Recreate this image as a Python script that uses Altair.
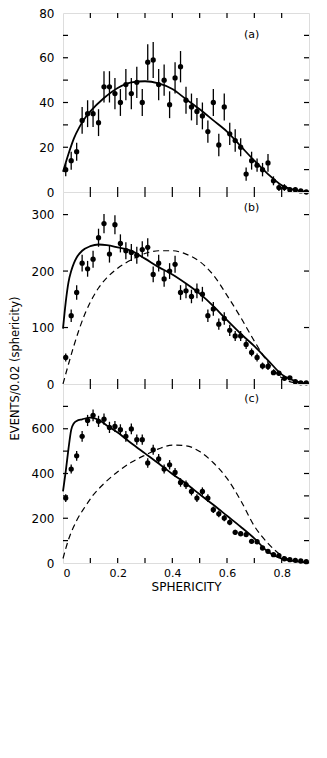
import altair as alt
import pandas as pd

# ---- data ----
SPH = [0.01, 0.03, 0.05, 0.07, 0.09, 0.11, 0.13, 0.15, 0.17, 0.19,
       0.21, 0.23, 0.25, 0.27, 0.29, 0.31, 0.33, 0.35, 0.37, 0.39,
       0.41, 0.43, 0.45, 0.47, 0.49, 0.51, 0.53, 0.55, 0.57, 0.59,
       0.61, 0.63, 0.65, 0.67, 0.69, 0.71, 0.73, 0.75, 0.77, 0.79,
       0.81, 0.83, 0.85, 0.87, 0.89]

A_N = [10, 14, 18, 32, 35, 35, 31, 47, 47, 44, 40, 48, 44, 49, 40, 58, 59, 48, 50, 39,
       51, 56, 41, 38, 36, 34, 27, 40, 21, 38, 26, 23, 20, 8, 14, 12, 10, 13, 5, 2,
       2, 1, 1, 0.5, 0]
A_ERR = [3, 4, 4, 6, 6, 6, 6, 7, 7, 7, 6, 7, 7, 7, 6, 8, 8, 7, 7, 6,
         7, 7, 6, 6, 6, 6, 5, 6, 5, 6, 5, 5, 4, 3, 4, 3, 3, 4, 2, 1.5,
         1.5, 1, 1, 0.5, 0]

B_N = [47, 121, 162, 214, 204, 221, 259, 284, 230, 282, 249, 236, 233, 228, 238, 242, 194, 214, 186, 200,
       212, 162, 165, 155, 165, 159, 121, 133, 106, 116, 95, 85, 85, 70, 56, 47, 32, 31, 20, 19,
       10, 11, 4, 2, 2]
B_ERR = [7, 11, 13, 15, 14, 15, 16, 17, 15, 17, 16, 15, 15, 15, 15, 16, 14, 15, 14, 14,
         15, 13, 13, 12, 13, 13, 11, 12, 10, 11, 10, 9, 9, 8, 7, 7, 6, 6, 4, 4,
         3, 3, 2, 1, 1]

C_N = [290, 420, 479, 566, 637, 660, 633, 643, 606, 610, 596, 566, 599, 551, 551, 447, 506, 465, 420, 439,
       405, 360, 350, 320, 290, 320, 290, 238, 220, 201, 182, 137, 131, 127, 97, 95, 67, 52, 37, 33,
       19, 15, 12, 9, 6]
C_ERR = [17, 20, 22, 24, 25, 26, 25, 25, 25, 25, 24, 24, 24, 23, 23, 21, 22, 22, 20, 21,
         20, 19, 19, 18, 17, 18, 17, 15, 15, 14, 13, 12, 11, 11, 10, 10, 8, 7, 6, 6,
         4, 4, 3, 3, 2]

A_FIT_X = [0, 0.02, 0.04, 0.06, 0.08, 0.1, 0.15, 0.2, 0.25, 0.3, 0.35, 0.4, 0.45, 0.5,
           0.55, 0.6, 0.65, 0.7, 0.75, 0.8, 0.85, 0.9]
A_FIT_Y = [9, 17, 24, 29, 33, 36, 42, 46.5, 49, 49.5, 48.5, 46, 41.5, 37,
           32, 27, 20.5, 14, 8, 3, 0.8, 0]

B_FIT_X = [0, 0.01, 0.02, 0.03, 0.04, 0.05, 0.07, 0.1, 0.13, 0.16, 0.2, 0.25, 0.3, 0.35,
           0.4, 0.45, 0.5, 0.55, 0.6, 0.65, 0.7, 0.75, 0.8, 0.85, 0.9]
B_FIT_Y = [98, 145, 180, 200, 214, 224, 236, 244, 247, 246, 242, 236, 222, 207,
           194, 178, 160, 138, 113, 89, 67, 42, 17, 5, 0]
B_ALT_X = [0, 0.02, 0.04, 0.06, 0.08, 0.1, 0.13, 0.16, 0.2, 0.25, 0.3, 0.35, 0.4, 0.45,
           0.5, 0.55, 0.6, 0.65, 0.7, 0.75, 0.8, 0.85, 0.9]
B_ALT_Y = [0, 35, 68, 98, 124, 145, 170, 188, 205, 220, 231, 236, 236, 230,
           217, 193, 157, 118, 76, 38, 11, 2, 0]

C_FIT_X = [0, 0.01, 0.02, 0.03, 0.04, 0.05, 0.07, 0.1, 0.13, 0.16, 0.2, 0.25, 0.3, 0.35,
           0.4, 0.45, 0.5, 0.55, 0.6, 0.65, 0.7, 0.75, 0.8, 0.85, 0.9]
C_FIT_Y = [320, 410, 510, 595, 625, 635, 642, 650, 640, 615, 583, 535, 490, 445,
           398, 355, 307, 260, 211, 162, 110, 50, 20, 8, 2]
C_ALT_X = [0, 0.02, 0.05, 0.08, 0.11, 0.15, 0.2, 0.25, 0.3, 0.35, 0.4, 0.45, 0.5,
           0.55, 0.6, 0.65, 0.7, 0.75, 0.8, 0.85, 0.9]
C_ALT_Y = [20, 104, 190, 250, 303, 355, 408, 450, 482, 510, 527, 524, 498,
           448, 378, 280, 165, 88, 33, 7, 0]

# tick marks (every tick) and labelled values
X_TICKS = [0.1, 0.2, 0.3, 0.4, 0.5, 0.6, 0.7, 0.8]
X_LABELS = [0, 0.2, 0.4, 0.6, 0.8]
A_TICKS = [10, 20, 30, 40, 50, 60, 70]
A_LABELS = [0, 20, 40, 60, 80]
B_TICKS = [100, 200, 300]
B_LABELS = [0, 100, 200, 300]
C_TICKS = [100, 200, 300, 400, 500, 600, 700]
C_LABELS = [0, 200, 400, 600]

FONT = "DejaVu Sans"
W = 246
TICK_LEN = 5
X_LABEL_EXPR = "datum.value < 0.001 ? '0' : format(datum.value, '.1f')"


def make_panel(n, err, fx, fy, ax, ay, ymax, yticks, ylabels, h, tag, tag_x, tag_y,
               bottom_labels, ytitle):
    pts = pd.DataFrame({
        "s": SPH, "n": n,
        "lo": [v - e for v, e in zip(n, err)],
        "hi": [v + e for v, e in zip(n, err)],
    })
    xs = alt.Scale(domain=[0, 0.9], nice=False, zero=False)
    ys = alt.Scale(domain=[0, ymax], nice=False)

    if bottom_labels:
        xaxis = alt.Axis(orient="bottom", values=X_LABELS, ticks=False, domain=False, grid=False,
                         labelExpr=X_LABEL_EXPR, labelFont=FONT, labelFontSize=11,
                         labelPadding=4, labelColor="black",
                         title="SPHERICITY", titleFont=FONT, titleFontSize=12,
                         titleFontWeight="normal", titleColor="black", titlePadding=3)
    else:
        xaxis = None

    ylab_kw = dict(orient="left", values=ylabels, ticks=False, domain=False, grid=False,
                   labelFont=FONT, labelFontSize=12, labelColor="black", labelPadding=9)
    if ytitle:
        yaxis = alt.Axis(title=ytitle, titleFont=FONT, titleFontSize=11.5,
                         titleFontWeight="normal", titleColor="black",
                         titleX=-43, titleY=176, titleAngle=270, titleAlign="center",
                         titleBaseline="bottom", **ylab_kw)
    else:
        yaxis = alt.Axis(title=None, **ylab_kw)

    base = alt.Chart(pts)
    bars = base.mark_rule(color="black", strokeWidth=1.3).encode(
        x=alt.X("s:Q", scale=xs, axis=xaxis),
        y=alt.Y("lo:Q", scale=ys, axis=yaxis),
        y2="hi:Q",
    )
    dots = base.mark_circle(size=28, color="black", opacity=1).encode(
        x=alt.X("s:Q", scale=xs),
        y=alt.Y("n:Q", scale=ys),
    )
    layers = [bars, dots]
    fit = pd.DataFrame({"s": fx, "v": fy})
    layers.append(alt.Chart(fit).mark_line(color="black", strokeWidth=1.8,
                                           interpolate="monotone").encode(
        x=alt.X("s:Q", scale=xs), y=alt.Y("v:Q", scale=ys)))
    if ax is not None:
        alt_df = pd.DataFrame({"s": ax, "v": ay})
        layers.append(alt.Chart(alt_df).mark_line(color="black", strokeWidth=1.2,
                                                  strokeDash=[6, 4],
                                                  interpolate="monotone").encode(
            x=alt.X("s:Q", scale=xs), y=alt.Y("v:Q", scale=ys)))
    layers.append(alt.Chart(pd.DataFrame({"t": [tag]})).mark_text(
        font=FONT, fontSize=11, color="black").encode(
        x=alt.datum(tag_x, scale=xs), y=alt.datum(tag_y, scale=ys), text="t:N"))

    # inward tick marks on all four sides
    xt = alt.Chart(pd.DataFrame({"v": X_TICKS}))
    yt = alt.Chart(pd.DataFrame({"v": yticks}))
    tk = dict(color="black", strokeWidth=1.2)
    layers.append(xt.mark_rule(**tk).encode(
        x=alt.X("v:Q", scale=xs), y=alt.value(h), y2=alt.value(h - TICK_LEN)))
    layers.append(xt.mark_rule(**tk).encode(
        x=alt.X("v:Q", scale=xs), y=alt.value(0), y2=alt.value(TICK_LEN)))
    layers.append(yt.mark_rule(**tk).encode(
        y=alt.Y("v:Q", scale=ys), x=alt.value(0), x2=alt.value(TICK_LEN)))
    layers.append(yt.mark_rule(**tk).encode(
        y=alt.Y("v:Q", scale=ys), x=alt.value(W - TICK_LEN), x2=alt.value(W)))

    return alt.layer(*layers).properties(width=W, height=h)


pa = make_panel(A_N, A_ERR, A_FIT_X, A_FIT_Y, None, None, 80, A_TICKS, A_LABELS, 179,
                "(a)", 0.69, 70, False, None)
pb = make_panel(B_N, B_ERR, B_FIT_X, B_FIT_Y, B_ALT_X, B_ALT_Y, 340, B_TICKS, B_LABELS, 192,
                "(b)", 0.69, 311, False, "EVENTS/0.02 (sphericity)")
pc = make_panel(C_N, C_ERR, C_FIT_X, C_FIT_Y, C_ALT_X, C_ALT_Y, 800, C_TICKS, C_LABELS, 179,
                "(c)", 0.69, 733, True, None)

chart = alt.vconcat(pa, pb, pc, spacing=0, bounds="flush").resolve_scale(
    x="independent", y="independent"
).properties(
    padding={"left": 0, "top": -2, "right": 5, "bottom": 5}
).configure_view(
    stroke="black", strokeWidth=1.3
).configure(background="white")

chart.save("out.html", embed_options={"renderer": "svg", "actions": False})
